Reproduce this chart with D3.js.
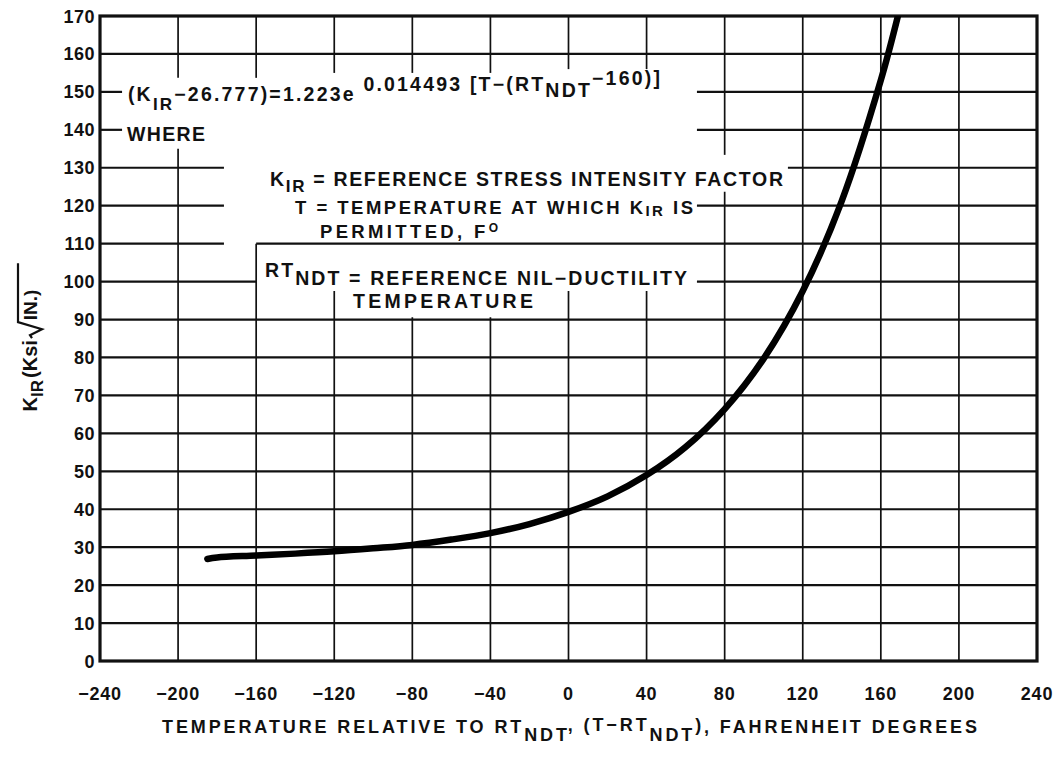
<!DOCTYPE html>
<html><head><meta charset="utf-8">
<script src="https://cdn.jsdelivr.net/npm/d3@7"></script>
<style>
body{margin:0;background:#fff}
text{font-family:"Liberation Sans",Arial,sans-serif;fill:#111;font-weight:bold}
</style>
</head><body>
<svg id="c" width="1062" height="762"></svg>
<script>
// ---- data ----
const xTicks = [-240,-200,-160,-120,-80,-40,0,40,80,120,160,200,240];
const yTicks = [0,10,20,30,40,50,60,70,80,90,100,110,120,130,140,150,160,170];
const curveT = [-185,-180,-160,-140,-120,-100,-80,-60,-40,-20,0,20,40,60,80,100,120,140,160,169];
const curveK = [26.9,27.3,27.8,28.3,28.9,29.7,30.6,32.0,33.7,36.1,39.3,43.4,49.0,56.4,66.4,79.7,97.5,121.3,153.1,170.5];

// ---- grid layout (data units): gaps around the annotation text ----
const vSegs = {
  "-200": [[153.7,170],[0,135]],
  "-160": [[153.7,170],[0,110]],
  "-120": [[155,170],[0,97.5]],
  "-80":  [[155,170],[0,90.6]],
  "-40":  [[155,170],[0,90.6]],
  "0":    [[156,170],[0,97.5]],
  "40":   [[156,170],[0,97.5]],
  "80":   [[0,123.7],[133.4,170]],
  "120":  [[0,170]], "160": [[0,170]], "200": [[0,170]]
};
const hSegs = {
  "100": [[-240,-160],[65.8,240]],
  "110": [[-240,-176.5],[-160,240]],
  "120": [[-240,-176.5],[65.8,240]],
  "130": [[-240,-176.5],[112.4,240]],
  "140": [[-240,-228.7],[65.8,240]],
  "150": [[-240,-228.7],[65.8,240]],
  "160": [[-240,240]]
};

const svg = d3.select("#c");
const x = d3.scaleLinear().domain([-240,240]).range([100,1037]);
const y = d3.scaleLinear().domain([0,170]).range([661,16]);

// grid
const g = svg.append("g").attr("stroke","#111").attr("stroke-width",1.7).attr("fill","none");
Object.entries(vSegs).forEach(([t,segs])=>{
  segs.forEach(s=>g.append("line").attr("x1",x(+t)).attr("x2",x(+t)).attr("y1",y(s[0])).attr("y2",y(s[1])));
});
yTicks.filter(v=>v>0 && v<170).forEach(v=>{
  const segs = hSegs[String(v)] || [[-240,240]];
  segs.forEach(s=>g.append("line").attr("y1",y(v)).attr("y2",y(v)).attr("x1",x(s[0])).attr("x2",x(s[1])).attr("stroke-width",2.2));
});

// frame
svg.append("rect").attr("x",x(-240)).attr("y",y(170)).attr("width",x(240)-x(-240)).attr("height",y(0)-y(170))
  .attr("fill","none").attr("stroke","#111").attr("stroke-width",3.2);

// curve
svg.append("clipPath").attr("id","clip").append("rect")
  .attr("x",x(-240)).attr("y",y(170)).attr("width",x(240)-x(-240)).attr("height",y(0)-y(170));
const pts = curveT.map((t,i)=>[t,curveK[i]]);
svg.append("path").datum(pts).attr("clip-path","url(#clip)")
  .attr("d",d3.line().x(d=>x(d[0])).y(d=>y(d[1])).curve(d3.curveCatmullRom))
  .attr("fill","none").attr("stroke","#000").attr("stroke-width",6.5).attr("stroke-linecap","round");

// tick labels
const fmt = v => v<0 ? "\u2212"+Math.abs(v) : String(v);
svg.append("g").selectAll("text").data(yTicks).join("text")
  .attr("x",x(-240)-5).attr("y",d=>y(d)+6.5).attr("text-anchor","end")
  .attr("font-size",18).attr("letter-spacing",0.5).text(d=>d);
svg.append("g").selectAll("text").data(xTicks).join("text")
  .attr("x",d=>x(d)).attr("y",y(0)+39).attr("text-anchor","middle")
  .attr("font-size",18).attr("letter-spacing",0.8).text(fmt);

// x title
const xt = svg.append("text").attr("x",x(-240)+62).attr("y",y(0)+72).attr("font-size",18)
  .attr("textLength",815).attr("lengthAdjust","spacing");
xt.append("tspan").text("TEMPERATURE RELATIVE TO RT");
xt.append("tspan").attr("dy",8).text("NDT");
xt.append("tspan").attr("dy",-10).text(", (T\u2212RT");
xt.append("tspan").attr("dy",10).text("NDT");
xt.append("tspan").attr("dy",-10).text(")");
xt.append("tspan").attr("dy",2).text(", FAHRENHEIT DEGREES");

// y title (rotated)
const yg = svg.append("g").attr("transform",`translate(37,${y(70)+16}) rotate(-90)`);
const yt = yg.append("text").attr("font-size",20);
yt.append("tspan").text("K");
yt.append("tspan").attr("dy",6).attr("font-size",17).text("IR");
yt.append("tspan").attr("dy",-6).attr("dx",2).text("(Ksi");
const w0 = yt.node().getComputedTextLength();
const rx = w0 + 4;
yg.append("path").attr("d",`M${rx},-5 L${rx+3},-7 L${rx+9},5 L${rx+16},-19 L${rx+75},-19`)
  .attr("fill","none").attr("stroke","#111").attr("stroke-width",2.2);
yg.append("text").attr("x",rx+18).attr("font-size",19).text("IN.)");

// equation + definitions (anchored in data units)
function ann(tx,ty,size,len){
  const t = svg.append("text").attr("x",x(tx)).attr("y",y(ty)).attr("font-size",size);
  if(len) t.attr("textLength",len).attr("lengthAdjust","spacing");
  return t;
}
const eq = ann(-225.7,147.6,19.5,532);
eq.append("tspan").text("(K");
eq.append("tspan").attr("dy",9).attr("font-size",17).text("IR");
eq.append("tspan").attr("dy",-9).text("\u221226.777)=1.223e ");
eq.append("tspan").attr("dy",-10).text("0.014493  [T\u2212(RT");
eq.append("tspan").attr("dy",6).text("NDT");
eq.append("tspan").attr("dy",-12).text("\u2212160)]");

ann(-226.2,137.1,19.5,78).text("WHERE");

const d1 = ann(-152.9,125.2,19.5,513);
d1.append("tspan").text("K");
d1.append("tspan").attr("dy",6).attr("font-size",17).text("IR");
d1.append("tspan").attr("dy",-6).text(" = REFERENCE STRESS INTENSITY FACTOR");

const d2 = ann(-140.1,117.8,18.5,398);
d2.append("tspan").text("T = TEMPERATURE AT WHICH K");
d2.append("tspan").attr("dy",2).attr("font-size",15).text("IR");
d2.append("tspan").attr("dy",-2).text(" IS");

const d3t = ann(-127.3,111.6,18.5,178);
d3t.append("tspan").text("PERMITTED, F");
d3t.append("tspan").attr("dy",-6).attr("font-size",12).text("O");

const d4 = ann(-155.5,99.1,19.5,422);
d4.append("tspan").attr("dy",-8).text("RT");
d4.append("tspan").attr("dy",8).text("NDT = REFERENCE NIL\u2212DUCTILITY");

ann(-110.4,93.0,19.5,180).text("TEMPERATURE");
</script>
</body></html>
